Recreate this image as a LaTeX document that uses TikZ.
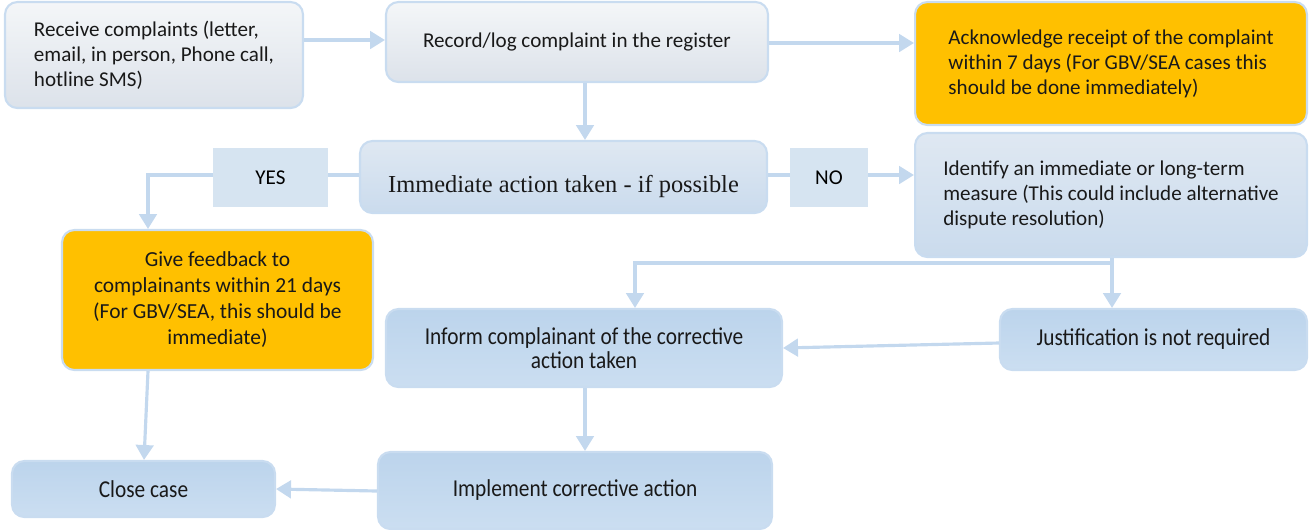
\documentclass[tikz,border=0pt]{standalone}
\usepackage{fontspec}
\setmainfont{Carlito}
\newfontfamily\narrowfont[FakeStretch=0.88]{Carlito}
\newfontfamily\actfont{Liberation Serif}
\usetikzlibrary{arrows.meta, shapes, positioning}
\definecolor{edgeblue}{HTML}{C3D8EE}
\definecolor{boxedge}{HTML}{C9DCF0}
\definecolor{amber}{HTML}{FFC000}
\definecolor{greytop}{HTML}{F4F6F8}
\definecolor{greybot}{HTML}{DCE2EA}
\definecolor{paletop}{HTML}{DFE8F2}
\definecolor{palebot}{HTML}{CADBED}
\definecolor{bluetop}{HTML}{BCD4EC}
\definecolor{bluebot}{HTML}{CBDEF1}
\definecolor{tagfill}{HTML}{D6E4F1}

\begin{document}
\begin{tikzpicture}[x=0.02cm, y=-0.02cm, line/.style={draw=edgeblue, line width=1.8pt}, flow/.style={line, -{Triangle[width=10pt,length=8.5pt]}}, box/.style={rounded corners=7pt, draw=boxedge, line width=1.2pt, inner sep=0pt, text=black!90, font=\fontsize{12}{14.3}\selectfont}, greybox/.style={box, top color=greytop, bottom color=greybot}, paleblue/.style={box, top color=paletop, bottom color=palebot}, bluebox/.style={box, top color=bluetop, bottom color=bluebot, font=\narrowfont\fontsize{13.8}{13.7}\selectfont}, orangebox/.style={box, fill=amber}, tag/.style={fill=tagfill, inner sep=0pt, font=\fontsize{12}{14.3}\selectfont}]
	\useasboundingbox (0,0) rectangle (1310,529);

	\node[greybox, minimum width=5.96cm, minimum height=2.12cm, align=left] (recv) at (154,55) {Receive complaints (letter,\\email, in person, Phone call,\\hotline SMS)};
	\node[greybox, minimum width=7.64cm, minimum height=1.6cm, align=left] (reg) at (577,42) {Record/log complaint in the register};
	\node[orangebox, minimum width=7.84cm, minimum height=2.46cm, align=left] (ack) at (1111,63.5) {Acknowledge receipt of the complaint\\within 7 days (For GBV/SEA cases this\\should be done immediately)};
	\node[paleblue, minimum width=8.14cm, minimum height=1.44cm, font=\actfont\fontsize{13.9}{16}\selectfont] (act) at (563.5,177) {\raisebox{-0.3cm}[0pt][0pt]{Immediate action taken - if possible}};
	\node[tag, minimum width=2.3cm, minimum height=1.18cm] (yes) at (270.5,177.5) {YES};
	\node[tag, minimum width=1.56cm, minimum height=1.18cm] (no) at (829,177.5) {NO};
	\node[paleblue, minimum width=7.84cm, minimum height=2.48cm, align=left] (meas) at (1111,195) {Identify an immediate or long-term\\measure (This could include alternative\\dispute resolution)};
	\node[orangebox, minimum width=6.22cm, minimum height=2.8cm, align=center, font=\fontsize{12.2}{14.8}\selectfont] (fb) at (217.5,300) {Give feedback to\\complainants within 21 days\\(For GBV/SEA, this should be\\immediate)};
	\node[bluebox, minimum width=7.92cm, minimum height=1.56cm, align=center] (inf) at (584,348) {Inform complainant of the corrective\\action taken};
	\node[bluebox, minimum width=6.14cm, minimum height=1.22cm] (just) at (1153.5,339.5) {Justification is not required};
	\node[bluebox, minimum width=5.26cm, minimum height=1.12cm] (close) at (143.5,489) {Close case};
	\node[bluebox, minimum width=7.88cm, minimum height=1.54cm] (impl) at (575,490.5) {Implement corrective action};
	\coordinate (split) at (1112,263);

	\draw[flow] (recv.east |- 0,40) -- (reg.west |- 0,40);
	\draw[flow] (reg.east |- 0,43) -- (ack.west |- 0,43);
	\draw[flow] (reg.south -| 585,0) -- (act.north -| 585,0);
	\draw[line] (act.west |- 0,175) -- (yes.east |- 0,175);
	\draw[flow] (yes.west |- 0,175) -| (fb.north -| 148,0);
	\draw[line] (act.east |- 0,175) -- (no.west |- 0,175);
	\draw[flow] (no.east |- 0,175) -- (meas.west |- 0,175);
	\draw[flow] (meas.south -| split) -- (just.north -| split);
	\draw[flow] (split) -| (inf.north -| 635,0);
	\draw[flow] (just.west |- 0,343) -- (inf.east |- 0,348);
	\draw[flow] (inf.south -| 585,0) -- (impl.north -| 585,0);
	\draw[flow] (fb.south -| 148,0) -- (close.north -| 144,0);
	\draw[flow] (impl.west |- 0,491) -- (close.east |- 0,489);
\end{tikzpicture}
\end{document}
